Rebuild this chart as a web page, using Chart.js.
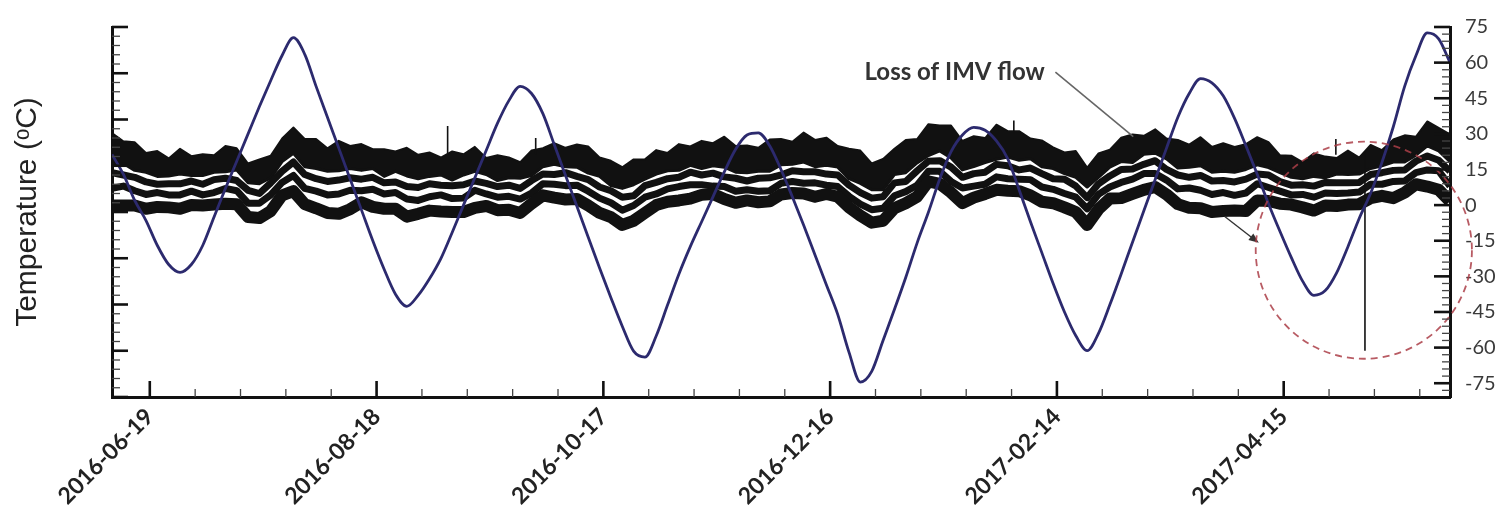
<!DOCTYPE html>
<html>
<head>
<meta charset="utf-8">
<title>Temperature and beta angle</title>
<script src="https://cdn.jsdelivr.net/npm/chart.js@4.4.0/dist/chart.umd.min.js"></script>
<style>
  html, body { margin: 0; padding: 0; background: #fff; }
  #wrap { width: 1504px; height: 512px; }
</style>
</head>
<body>
<div id="wrap"><canvas id="temp-chart"></canvas></div>
<script>
// Sample days, counted from 2016-06-19 (one reading every 3 days)
const sampleDays = [
  -10, -7, -4, -1, 2, 5, 8, 11, 14, 17, 20, 23, 26, 29, 32, 35, 38, 41, 44, 47,
  50, 53, 56, 59, 62, 65, 68, 71, 74, 77, 80, 83, 86, 89, 92, 95, 98, 101, 104, 107,
  110, 113, 116, 119, 122, 125, 128, 131, 134, 137, 140, 143, 146, 149, 152, 155, 158, 161, 164, 167,
  170, 173, 176, 179, 182, 185, 188, 191, 194, 197, 200, 203, 206, 209, 212, 215, 218, 221, 224, 227,
  230, 233, 236, 239, 242, 245, 248, 251, 254, 257, 260, 263, 266, 269, 272, 275, 278, 281, 284, 287,
  290, 293, 296, 299, 302, 305, 308, 311, 314, 317, 320, 323, 326, 329, 332, 335, 338, 341, 344
];

// Beta angle (deg), right axis
const betaAngle = [
  21.3, 13, 2, -6.5, -17, -25, -28.3, -25, -17, -5, 7, 18.5, 30, 41.5, 52.5, 63, 70.5, 63.5, 50, 37,
  24, 11, -2, -15, -27, -37.5, -42.6, -38, -31, -22.5, -11.5, 0, 11.5, 23, 34.5, 44, 50, 47, 38.5, 25.5,
  12.5, -0.5, -13.5, -26.5, -39, -51, -61.5, -64, -55, -42, -29, -17.5, -7, 3.5, 14, 23.5, 29.5, 30.4, 25, 15,
  3.5, -8.5, -21, -33.5, -46, -62, -74.5, -70, -57, -44, -30.5, -16, -3, 11, 22.5, 29.5, 32.7, 31.5, 27, 19.5,
  6.5, -7, -20, -33, -45, -55, -61.3, -54, -42, -29, -15.6, -2.4, 10.8, 24, 37, 47, 53.3, 51.5, 46, 36.5,
  25, 13, 0.5, -11, -22, -32, -38, -36, -28.5, -17.5, -5.5, 5, 18, 33, 50, 63, 72.5, 70, 60
];

// Temperature sensors (deg C), left axis: the top sensor is kept as a high / low envelope
const tempTopHi = [
  17.1, 15.3, 15.1, 12.8, 13.2, 11.6, 13.7, 12.1, 12.5, 12.3,
  14.3, 13.8, 10.5, 11.4, 12.2, 15.9, 18.3, 15.8, 15.8, 13.8,
  15.4, 14.3, 14.7, 13.6, 13.6, 13.1, 13.9, 12.4, 12.9, 11.8,
  13.1, 12.5, 14.1, 11.7, 12.3, 11.8, 10.8, 13.3, 13.8, 14.9,
  13.9, 14.6, 14.2, 11.8, 11.1, 9.7, 11.4, 11.4, 13.4, 12.8,
  14.7, 14.2, 15.4, 14.9, 16.3, 14.3, 14.4, 13.9, 15.7, 15.8,
  15.2, 17.2, 15.6, 16.1, 14.3, 13.7, 13.3, 10.5, 11.5, 13.7,
  15.6, 15.8, 19.0, 18.7, 18.7, 15.4, 16.4, 16.0, 18.9, 17.5,
  17.5, 15.9, 15.5, 14.0, 12.9, 13.2, 9.6, 12.7, 13.5, 16.1,
  16.8, 16.5, 17.9, 15.9, 15.6, 14.6, 16.2, 14.1, 14.9, 14.1,
  14.7, 16.2, 15.1, 12.3, 12.2, 10.8, 12.7, 12.0, 11.7, 13.3,
  11.8, 14.5, 13.4, 15.7, 16.6, 16.3, 19.6, 18.2, 16.8
];
const tempTopLo = [
  10.3, 10.5, 9.0, 8.6, 7.7, 7.8, 8.2, 7.9, 7.9, 8.6,
  8.7, 9.1, 6.3, 6.1, 7.4, 10.9, 12.7, 9.8, 9.4, 8.8,
  8.9, 9.4, 9.0, 9.4, 7.7, 8.8, 7.8, 7.2, 7.7, 8.0,
  6.9, 8.0, 8.8, 8.1, 6.8, 7.4, 7.3, 7.9, 9.8, 10.3,
  9.8, 9.7, 8.4, 7.7, 5.7, 5.1, 5.9, 7.1, 8.2, 8.9,
  9.0, 10.1, 9.4, 10.0, 9.7, 8.6, 8.5, 8.8, 8.8, 10.2,
  10.3, 10.8, 9.8, 10.1, 9.7, 7.2, 6.2, 4.8, 4.8, 8.1,
  8.5, 10.6, 12.2, 13.2, 11.7, 9.1, 9.8, 10.7, 11.4, 11.9,
  11.2, 11.5, 9.8, 9.4, 8.3, 7.5, 5.4, 7.5, 9.7, 10.9,
  10.7, 12.5, 12.7, 11.5, 9.5, 9.7, 10.0, 8.6, 8.8, 8.6,
  9.2, 10.2, 9.6, 8.5, 7.5, 7.2, 7.7, 7.4, 8.2, 8.1,
  8.2, 9.4, 10.0, 10.8, 10.8, 12.3, 14.3, 13.2, 10.9
];
const tempB = [
  8.5, 8.0, 7.5, 6.5, 6.0, 6.1, 6.1, 6.7, 6.0, 7.0,
  7.3, 6.8, 4.7, 4.0, 6.3, 8.8, 10.8, 8.1, 7.2, 6.6,
  6.9, 7.4, 7.1, 7.5, 6.3, 6.5, 5.5, 5.3, 6.1, 5.8,
  5.7, 5.9, 6.7, 6.2, 5.5, 5.8, 5.1, 6.8, 8.2, 8.1,
  8.5, 7.7, 7.0, 5.4, 4.6, 3.2, 3.5, 5.7, 6.4, 7.2,
  7.5, 8.6, 8.0, 8.4, 7.6, 7.3, 6.7, 7.3, 7.4, 8.0,
  8.9, 8.7, 8.7, 8.2, 8.0, 5.8, 4.2, 3.0, 3.3, 6.3,
  6.6, 8.9, 11.0, 11.1, 9.7, 7.5, 8.3, 8.6, 10.3, 10.0,
  9.1, 9.5, 8.3, 7.2, 7.1, 5.6, 3.1, 6.1, 7.8, 9.2,
  9.3, 10.3, 11.1, 9.2, 8.0, 7.5, 7.9, 6.7, 6.8, 6.5,
  7.1, 8.2, 8.0, 6.6, 5.8, 5.9, 5.6, 6.4, 6.3, 6.3,
  6.4, 8.1, 8.5, 9.0, 9.1, 11.0, 12.1, 11.2, 8.8
];
const tempC = [
  5.1, 5.6, 4.6, 3.8, 4.2, 3.7, 3.7, 4.5, 3.7, 4.2,
  5.1, 4.6, 1.9, 1.9, 3.7, 6.4, 7.9, 5.1, 4.5, 3.7,
  3.9, 4.7, 4.6, 4.9, 3.9, 4.2, 2.8, 2.5, 3.3, 3.7,
  2.9, 3.0, 4.7, 3.9, 3.2, 3.4, 2.8, 4.1, 6.1, 6.0,
  5.7, 5.8, 4.5, 3.0, 2.0, 0.4, 1.4, 3.2, 3.9, 5.0,
  5.5, 5.9, 5.9, 5.6, 5.5, 4.5, 4.8, 4.5, 4.6, 6.2,
  6.6, 6.2, 6.3, 5.8, 5.5, 3.4, 1.7, 0.5, 0.8, 3.5,
  4.4, 5.8, 8.8, 8.8, 6.6, 5.2, 5.6, 6.0, 7.6, 7.2,
  7.1, 7.0, 5.4, 4.9, 4.0, 3.2, 0.7, 3.8, 5.4, 6.4,
  7.1, 8.3, 8.3, 6.9, 5.0, 5.2, 4.7, 3.8, 4.2, 3.6,
  4.1, 6.1, 5.3, 4.5, 3.7, 3.8, 3.2, 4.1, 4.0, 4.1,
  4.3, 6.0, 6.0, 6.6, 6.7, 8.5, 9.1, 8.9, 5.6
];
const tempD = [
  1.4, 1.4, 1.4, 0.7, 1.1, 1.0, 0.7, 1.5, 1.4, 1.6,
  1.8, 1.7, -1.1, -1.3, 0.2, 3.6, 4.5, 1.7, 0.8, -0.2,
  -0.4, 0.6, 2.1, 1.1, 0.7, 0.7, -1.0, -0.4, 0.3, 0.1,
  0.0, 0.0, 0.9, 1.3, 0.4, 0.5, -0.2, 1.8, 3.6, 3.1,
  2.7, 2.8, 1.4, -0.2, -1.1, -2.8, -1.9, -0.2, 1.5, 2.2,
  2.5, 2.9, 3.7, 3.9, 2.8, 2.0, 2.5, 2.1, 2.3, 3.8,
  4.1, 4.0, 3.3, 3.9, 3.3, 1.0, -0.8, -2.3, -1.9, 0.8,
  1.9, 3.3, 6.6, 6.1, 4.2, 1.9, 3.1, 3.9, 4.8, 4.6,
  4.5, 3.6, 2.2, 1.9, 1.0, 0.0, -2.8, 0.6, 2.9, 3.0,
  3.9, 4.8, 5.4, 3.8, 1.7, 0.9, 0.8, 0.0, 0.2, 0.3,
  0.2, 2.5, 2.4, 1.8, 1.6, 1.0, 0.3, 1.4, 1.3, 1.6,
  1.7, 3.0, 3.5, 3.0, 4.2, 6.0, 5.5, 4.8, 2.3
];

// Single-sample glitches in the temperature record (deg C)
const spikeDays = [78.8, 102.1, 228.6, 313.8, 321.5];
const spikeFrom = [12.5, 12.5, 17.0, 12.4, 13.2];
const spikeTo = [18.6, 16.0, 19.8, 15.8, -30.0];

// Axis ticks
const xTickDays = [0, 60, 120, 180, 240, 300];
const xTickLabels = ['2016-06-19', '2016-08-18', '2016-10-17', '2016-12-16', '2017-02-14', '2017-04-15'];
const betaTicks = [-75, -60, -45, -30, -15, 0, 15, 30, 45, 60, 75];

// Callouts, placed in (day, beta) coordinates
const callout = {
    text: 'Loss of IMV flow',
    day: 189.1, beta: 56.0,
    leader: [[239.6, 56.0], [260.2, 28.8]],
    arrow: [[284.4, -4.8], [293.4, -15.9]],
    ring: { day: 321.2, beta: -19.0, rDays: 28.6, rBeta: 45.7 }
};

const spikeData = spikeDays.flatMap((d, i) => [
    { x: d, y: spikeFrom[i] },
    { x: d, y: spikeTo[i] },
    { x: d, y: null }
]);

const sensorLine = (label, values, width, extra) => ({
    type: 'line',
    label,
    data: values,
    yAxisID: 'y',
    borderColor: '#111',
    borderWidth: width,
    borderJoinStyle: 'round',
    pointRadius: 0,
    tension: 0,
    fill: false,
    order: 2,
    ...extra
});

// Inward major / minor tick marks on all three axes
const axisMarks = {
    id: 'axisMarks',
    afterDraw(chart) {
        const { ctx, chartArea: area, scales } = chart;
        const majorLen = 16, minorLen = 8;
        const line = (x1, y1, x2, y2, major) => {
            ctx.beginPath();
            ctx.lineWidth = major ? 2.6 : 1.3;
            ctx.strokeStyle = major ? '#111' : '#444';
            ctx.moveTo(x1, y1);
            ctx.lineTo(x2, y2);
            ctx.stroke();
        };
        ctx.save();
        for (let d = 0; d <= scales.x.max; d += 12) {
            const px = scales.x.getPixelForValue(d);
            const major = xTickDays.includes(d);
            line(px, area.bottom, px, area.bottom - (major ? majorLen : minorLen), major);
        }
        for (let v = scales.y.min; v <= scales.y.max; v += 2) {
            const py = scales.y.getPixelForValue(v);
            const major = v % 10 === 0;
            line(area.left, py, area.left + (major ? majorLen : minorLen), py, major);
        }
        for (let v = -78; v <= 75; v += 3) {
            const py = scales.y1.getPixelForValue(v);
            const major = v % 15 === 0;
            line(area.right, py, area.right - (major ? majorLen : minorLen), py, major);
        }
        ctx.restore();
    }
};

const callouts = {
    id: 'callouts',
    afterDatasetsDraw(chart) {
        const { ctx, scales: { x, y1 } } = chart;
        const px = d => x.getPixelForValue(d);
        const py = b => y1.getPixelForValue(b);
        ctx.save();

        ctx.font = 'bold 24px Lato, sans-serif';
        ctx.fillStyle = '#333';
        ctx.textBaseline = 'middle';
        ctx.fillText(callout.text, px(callout.day), py(callout.beta));

        const [l0, l1] = callout.leader;
        ctx.strokeStyle = '#666';
        ctx.lineWidth = 1.6;
        ctx.beginPath();
        ctx.moveTo(px(l0[0]), py(l0[1]));
        ctx.lineTo(px(l1[0]), py(l1[1]));
        ctx.stroke();

        const [a0, a1] = callout.arrow;
        const ax0 = px(a0[0]), ay0 = py(a0[1]), ax1 = px(a1[0]), ay1 = py(a1[1]);
        const ang = Math.atan2(ay1 - ay0, ax1 - ax0);
        ctx.strokeStyle = '#333';
        ctx.fillStyle = '#333';
        ctx.lineWidth = 1.4;
        ctx.beginPath();
        ctx.moveTo(ax0, ay0);
        ctx.lineTo(ax1 - 6 * Math.cos(ang), ay1 - 6 * Math.sin(ang));
        ctx.stroke();
        ctx.beginPath();
        ctx.moveTo(ax1, ay1);
        ctx.lineTo(ax1 - 10 * Math.cos(ang) + 4 * Math.sin(ang), ay1 - 10 * Math.sin(ang) - 4 * Math.cos(ang));
        ctx.lineTo(ax1 - 10 * Math.cos(ang) - 4 * Math.sin(ang), ay1 - 10 * Math.sin(ang) + 4 * Math.cos(ang));
        ctx.closePath();
        ctx.fill();

        const r = callout.ring;
        const cx = px(r.day), cy = py(r.beta);
        const rx = px(r.day + r.rDays) - cx;
        const ry = cy - py(r.beta + r.rBeta);
        ctx.setLineDash([7, 5]);
        ctx.strokeStyle = 'rgba(172, 62, 72, 0.85)';
        ctx.lineWidth = 1.8;
        ctx.beginPath();
        ctx.ellipse(cx, cy, rx, ry, 0, 0, Math.PI * 2);
        ctx.stroke();

        ctx.restore();
    }
};

new Chart(document.getElementById('temp-chart'), {
    type: 'line',
    data: {
        labels: sampleDays,
        datasets: [
            {
                label: 'Beta angle',
                data: betaAngle,
                yAxisID: 'y1',
                borderColor: '#2c2a6e',
                borderWidth: 2.8,
                pointRadius: 0,
                cubicInterpolationMode: 'monotone',
                fill: false,
                order: 0
            },
            {
                label: 'Glitches',
                data: spikeData,
                yAxisID: 'y',
                borderColor: '#111',
                borderWidth: 1.6,
                pointRadius: 0,
                spanGaps: false,
                fill: false,
                order: 1
            },
            sensorLine('Sensor D', tempD, 12),
            sensorLine('Sensor C', tempC, 7),
            sensorLine('Sensor B', tempB, 7),
            sensorLine('Sensor A low', tempTopLo, 3),
            sensorLine('Sensor A high', tempTopHi, 1.8, { fill: '-1', backgroundColor: '#111' })
        ]
    },
    options: {
        responsive: true,
        maintainAspectRatio: false,
        animation: false,
        layout: { padding: { left: 10, top: 20, right: 0, bottom: 0 } },
        plugins: {
            legend: { display: false },
            tooltip: { enabled: false }
        },
        scales: {
            x: {
                type: 'linear',
                min: -10,
                max: 344,
                grid: { display: false, drawTicks: false },
                border: { display: true, color: '#111', width: 3 },
                afterBuildTicks: s => { s.ticks = xTickDays.map(v => ({ value: v })); },
                afterFit: s => { s.height = 115; },
                ticks: {
                    autoSkip: false,
                    minRotation: 45,
                    maxRotation: 45,
                    padding: 6,
                    color: '#222',
                    font: { family: 'Lato, sans-serif', size: 23, weight: 'bold' },
                    callback: v => xTickLabels[xTickDays.indexOf(v)]
                }
            },
            y: {
                position: 'left',
                min: -40,
                max: 40,
                grid: { display: false, drawTicks: false },
                border: { display: true, color: '#111', width: 3 },
                ticks: { display: false },
                afterFit: s => { s.width = 102; },
                title: {
                    display: true,
                    text: 'Temperature (ᵒC)',
                    color: '#222',
                    padding: 0,
                    font: { family: "'Liberation Sans', Arial, sans-serif", size: 30 }
                }
            },
            y1: {
                position: 'right',
                min: -80.8,
                max: 75,
                grid: { display: false, drawTicks: false },
                border: { display: true, color: '#111', width: 3 },
                afterBuildTicks: s => { s.ticks = betaTicks.map(v => ({ value: v })); },
                afterFit: s => { s.width = 54; },
                ticks: {
                    padding: 15,
                    color: '#3a3a3a',
                    font: { family: 'Lato, sans-serif', size: 20 }
                }
            }
        }
    },
    plugins: [axisMarks, callouts]
});
</script>
</body>
</html>
